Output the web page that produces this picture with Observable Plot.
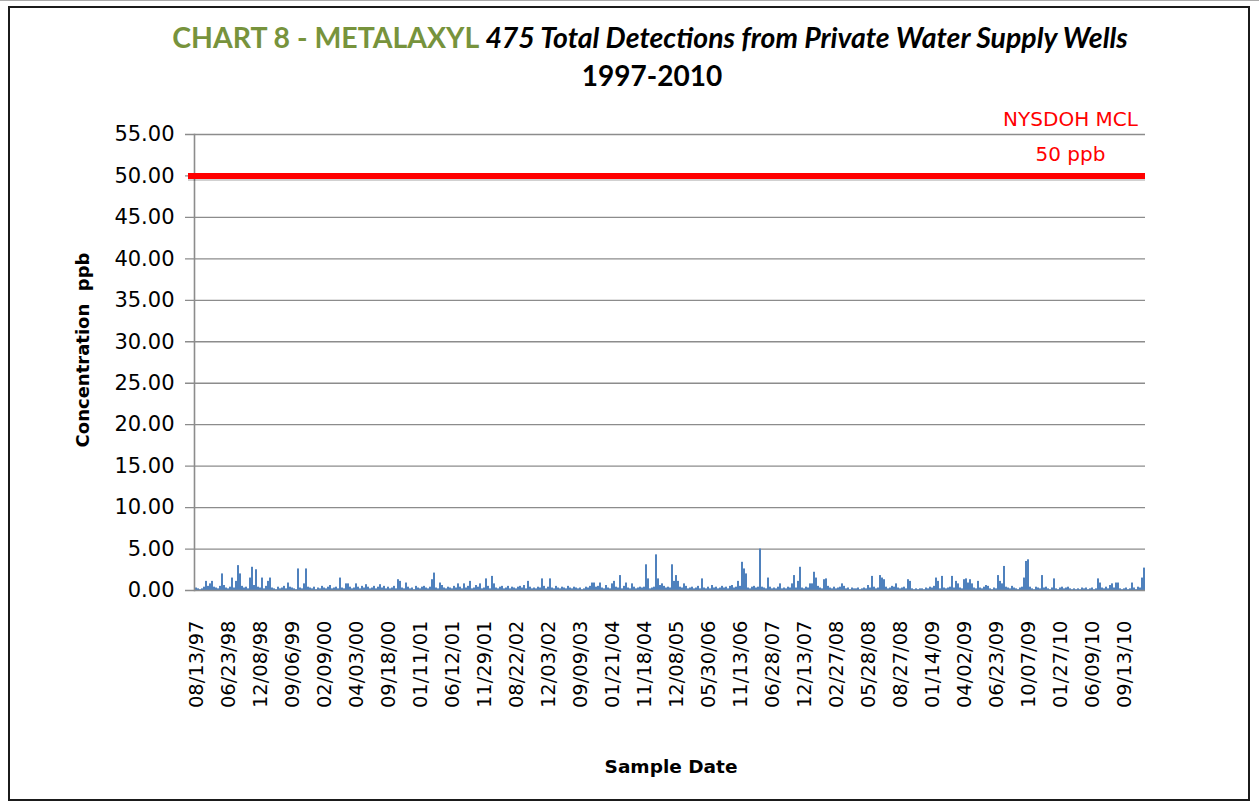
<!DOCTYPE html>
<html><head><meta charset="utf-8">
<script src="https://cdn.jsdelivr.net/npm/d3@7"></script>
<script src="https://cdn.jsdelivr.net/npm/@observablehq/plot@0.6"></script>
<style>
html,body{margin:0;padding:0;background:#fff}
body{width:1259px;height:805px;overflow:hidden;position:relative;font-family:"DejaVu Sans",sans-serif}
#topline{position:absolute;left:0;top:0;width:1259px;height:6px;border-top:1px solid #aaa;box-sizing:border-box}
#frame{position:absolute;left:8px;top:6px;width:1242px;height:795px;border:2px solid #1b1b1b;box-sizing:border-box}
.t{position:absolute;white-space:nowrap;line-height:1}
#title1{left:650px;top:23px;transform:translateX(-50%);font-family:Lato,sans-serif;font-weight:bold;font-size:27px}
#title1 .g{color:#77933C;font-style:normal}
#title1 .b{color:#000;font-style:italic}
#title2{left:652px;top:61px;transform:translateX(-50%);font-family:Lato,sans-serif;font-weight:bold;font-size:28px;color:#000}
#ylab{left:83px;top:350px;transform:translate(-50%,-50%) rotate(-90deg);font-weight:bold;font-size:18px;color:#000}
#xlab{left:671px;top:758px;transform:translateX(-50%);font-weight:bold;font-size:18.5px;color:#000}
#chart{position:absolute;left:0;top:95px}
</style></head>
<body>
<div id="topline"></div>
<div id="frame"></div>
<div class="t" id="title1"><span class="g">CHART 8 - METALAXYL </span><span class="b">475 Total Detections from Private Water Supply Wells</span></div>
<div class="t" id="title2">1997-2010</div>
<div class="t" id="ylab">Concentration&nbsp; ppb</div>
<div class="t" id="xlab">Sample Date</div>
<div id="chart"></div>
<script>
const labels = ["08/13/97","06/23/98","12/08/98","09/06/99","02/09/00","04/03/00","09/18/00","01/11/01","06/12/01","11/29/01","08/22/02","12/03/02","09/09/03","01/21/04","11/18/04","12/08/05","05/30/06","11/13/06","06/28/07","12/13/07","02/27/08","05/28/08","08/27/08","01/14/09","04/02/09","06/23/09","10/07/09","01/27/10","06/09/10","09/13/10"];

const values = [
0.3,0.2,0.1,0.2,0.4,1.1,0.5,0.8,1.1,0.4,0.3,0.2,0.5,2.0,0.6,0.3,
0.2,0.4,1.5,0.3,1.1,3.0,2.0,0.5,0.3,0.4,0.2,1.5,2.8,0.6,2.5,0.4,
0.3,1.5,0.2,0.5,1.1,1.5,0.3,0.2,0.1,0.4,0.2,0.3,0.5,0.2,0.9,0.4,
0.3,0.2,0.1,2.6,0.3,0.2,0.8,2.6,0.4,0.3,0.2,0.4,0.1,0.3,0.2,0.5,
0.3,0.2,0.4,0.6,0.2,0.3,0.4,0.2,1.5,0.3,0.2,0.8,0.8,0.4,0.2,0.3,
0.8,0.4,0.2,0.5,0.3,0.7,0.4,0.2,0.3,0.5,0.2,0.4,0.7,0.3,0.5,0.2,
0.4,0.2,0.3,0.5,0.2,1.3,1.1,0.3,0.2,0.9,0.4,0.2,0.3,0.1,0.5,0.3,
0.2,0.4,0.5,0.3,0.2,0.4,1.3,2.1,0.3,0.2,0.9,0.6,0.3,0.2,0.4,0.3,
0.2,0.5,0.3,0.8,0.4,0.2,0.8,0.3,0.5,1.1,0.2,0.3,0.6,0.4,0.8,0.2,
0.3,1.4,0.5,0.2,1.7,0.8,0.3,0.2,0.4,0.5,0.2,0.3,0.5,0.2,0.4,0.3,
0.2,0.4,0.5,0.3,0.6,0.2,1.1,0.4,0.2,0.3,0.2,0.4,0.3,1.4,0.5,0.2,
0.4,1.4,0.3,0.2,0.5,0.3,0.2,0.4,0.3,0.2,0.5,0.3,0.2,0.4,0.3,0.2,
0.3,0.1,0.2,0.4,0.3,0.5,0.9,0.9,0.4,0.5,0.9,0.3,0.2,0.6,0.3,0.2,
0.8,1.1,0.4,0.3,1.8,0.2,0.5,0.9,0.3,0.2,0.8,0.4,0.2,0.3,0.4,0.3,
0.4,3.1,1.4,0.2,0.3,0.4,4.3,1.4,0.6,0.8,0.5,0.3,0.4,0.3,3.1,1.1,
1.8,1.1,0.4,0.3,0.8,0.5,0.2,0.3,0.4,0.2,0.3,0.5,0.2,1.4,0.3,0.2,
0.4,0.2,0.6,0.3,0.4,0.2,0.3,0.5,0.3,0.4,0.2,0.5,0.6,0.3,0.4,1.1,
0.5,3.4,2.6,2.0,0.3,0.2,0.4,0.5,0.3,0.4,5.0,0.4,0.3,0.2,1.5,0.4,
0.2,0.3,0.2,0.4,0.8,0.2,0.3,0.2,0.4,0.3,0.8,1.8,0.3,1.1,2.8,0.3,
0.2,0.4,0.3,0.8,0.8,2.2,1.5,0.5,0.3,0.2,1.3,1.4,0.5,0.3,0.2,0.4,
0.2,0.3,0.4,0.8,0.5,0.2,0.3,0.1,0.3,0.2,0.2,0.3,0.1,0.2,0.3,0.2,
0.6,0.3,1.7,0.4,0.2,0.3,1.8,1.5,1.3,0.4,0.2,0.3,0.5,0.4,0.8,0.3,
0.2,0.3,0.4,0.2,1.3,1.1,0.2,0.1,0.2,0.1,0.2,0.2,0.1,0.3,0.2,0.4,
0.3,0.5,1.5,1.1,0.2,1.7,0.3,0.2,0.3,0.4,1.7,0.3,1.1,0.8,0.3,0.2,
1.3,1.4,0.9,1.3,0.8,0.3,0.2,1.1,0.3,0.2,0.4,0.6,0.5,0.2,0.1,0.3,
0.2,1.8,1.1,0.8,2.9,0.4,0.3,0.2,0.5,0.3,0.2,0.1,0.3,0.4,1.5,3.5,
3.7,0.4,0.2,0.1,0.4,0.3,0.2,1.8,0.3,0.4,0.2,0.1,0.3,1.4,0.2,0.1,
0.3,0.4,0.2,0.3,0.4,0.2,0.1,0.2,0.1,0.2,0.1,0.3,0.2,0.3,0.1,0.2,
0.3,0.1,0.2,1.4,0.9,0.3,0.2,0.4,0.2,0.6,0.8,0.3,0.9,0.9,0.2,0.1,
0.2,0.3,0.1,0.2,0.9,0.3,0.1,0.4,0.3,1.5,2.7
];

const labelEvery = 16;
const yTicks = [0,5,10,15,20,25,30,35,40,45,50,55];
const mclValue = [50];
const mclText = ["NYSDOH MCL", "50 ppb"];
const mclTextY = [56.8, 52.6];
const mclTextIdx = 437;

const idx = d3.range(values.length);
const data = idx.map(i => ({i, v: values[i]}));
const annot = mclText.map((t, k) => ({t, y: mclTextY[k], x: mclTextIdx}));

const chart = Plot.plot({
  width: 1259, height: 620,
  marginTop: 39, marginBottom: 125, marginLeft: 194, marginRight: 114,
  style: {fontFamily: "DejaVu Sans, sans-serif", fontSize: "20px", color: "#000", background: "transparent", overflow: "visible"},
  x: {type: "band", domain: idx, padding: 0.25},
  y: {domain: [0, 55]},
  marks: [
    Plot.ruleY(yTicks.filter(d => d > 0), {stroke: "#8c8c8c", strokeWidth: 1.3, insetLeft: -9}),
    Plot.barY(data, {x: "i", y: "v", fill: "#4F81BD"}),
    Plot.ruleY([0], {stroke: "#8c8c8c", strokeWidth: 1.6, insetLeft: -9}),
    Plot.frame({anchor: "left", stroke: "#8c8c8c", strokeWidth: 1.6}),
    Plot.ruleY(mclValue, {stroke: "rgba(0,0,0,0.18)", strokeWidth: 4, dy: 3, insetLeft: -6}),
    Plot.ruleY(mclValue, {stroke: "#ff0000", strokeWidth: 6, insetLeft: -6}),
    Plot.text(annot, {x: "x", y: "y", text: "t", fill: "#ff0000", fontSize: 20}),
    Plot.axisY({ticks: yTicks, tickFormat: d => d.toFixed(2), tickSize: 0, tickPadding: 20, fontSize: 21, label: null}),
    Plot.axisX({ticks: idx.filter(i => i % labelEvery === 0), tickFormat: i => labels[i / labelEvery], tickRotate: -90, tickSize: 0, tickPadding: 30, fontSize: 19.5, label: null})
  ]
});
document.getElementById("chart").appendChild(chart);

// fit title width to reference width
function fitWidth(el, target) {
  const w = el.getBoundingClientRect().width;
  const fs = parseFloat(getComputedStyle(el).fontSize);
  el.style.fontSize = (fs * target / w) + "px";
}
fitWidth(document.getElementById("title1"), 956);
</script>
</body></html>
